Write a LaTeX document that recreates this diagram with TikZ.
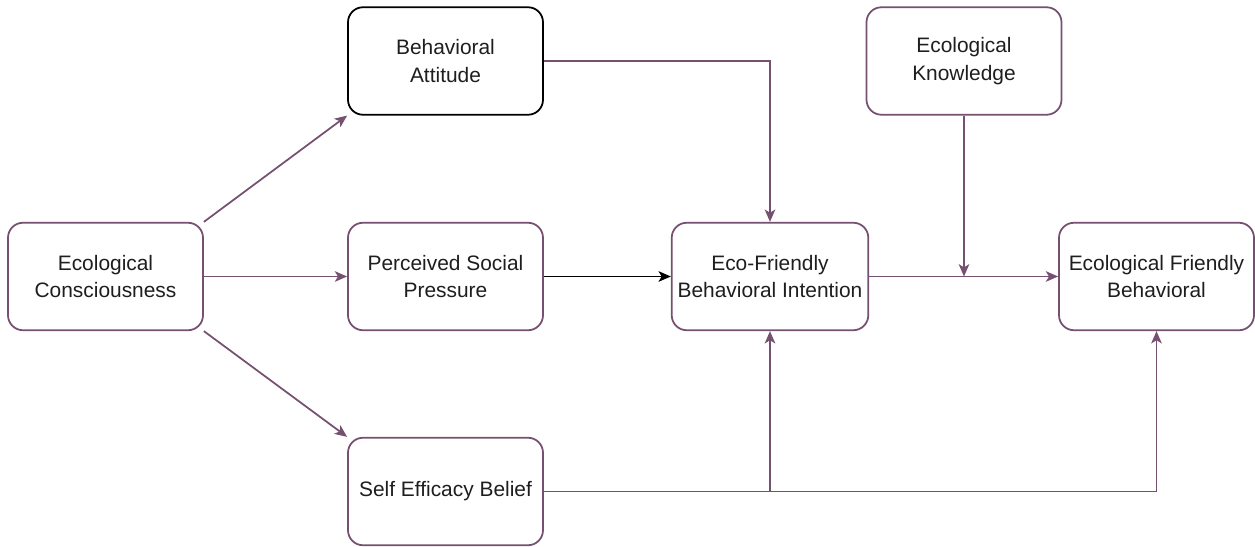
\documentclass[tikz,border=0pt]{standalone}
\usepackage{fontspec}
\setmainfont{Liberation Sans}
\usepackage{tikz}
\usepackage{xcolor}
\usetikzlibrary{arrows.meta}
\definecolor{plum}{RGB}{118,80,112}
\definecolor{inkgrey}{RGB}{30,30,30}
\tikzset{
    rounded-box/.style = {draw=plum, fill=white, line width=1pt, rectangle, rounded corners=0.3cm,
        minimum width=3.9cm, minimum height=2.15cm, align=center, text=inkgrey,
        font=\fontsize{11.9}{15.9}\selectfont},
    link/.style = {draw=plum, line width=1pt, -{Stealth[length=7pt,width=6pt,inset=1.8pt]}},
}

\begin{document}
\begin{tikzpicture}
\useasboundingbox (0,0) rectangle (25.1,10.94);
% boxes
\node [rounded-box] (eco-con) at (2.11,5.41) {Ecological\\Consciousness};
\node [rounded-box, draw=black] (beh-att) at (8.91,9.72) {Behavioral\\Attitude};
\node [rounded-box] (soc-press) at (8.91,5.41) {Perceived Social\\Pressure};
\node [rounded-box] (self-eff) at (8.91,1.11) {Self Efficacy Belief};
\node [rounded-box] (intention) at (15.4,5.41) {Eco-Friendly\\Behavioral Intention};
\node [rounded-box] (eco-know) at (19.28,9.72) {Ecological\\Knowledge};
\node [rounded-box] (behavior) at (23.13,5.41) {Ecological Friendly\\Behavioral};
\coordinate (join) at (eco-know.south |- intention.east);
\coordinate (split) at (intention.south |- self-eff.east);
% links
\draw [link] (eco-con.north east) -- (beh-att.south west);
\draw [link] (eco-con.east) -- (soc-press.west);
\draw [link] (eco-con.south east) -- (self-eff.north west);
\draw [link] (beh-att.east) -| (intention.north);
\draw [link, draw=black] (soc-press.east) -- (intention.west);
\draw [link] (intention.east) -- (behavior.west);
\draw [link] (eco-know.south) -- (join);
\draw [link] (self-eff.east) -| (behavior.south);
\draw [link] (split) -- (intention.south);
\end{tikzpicture}
\end{document}
